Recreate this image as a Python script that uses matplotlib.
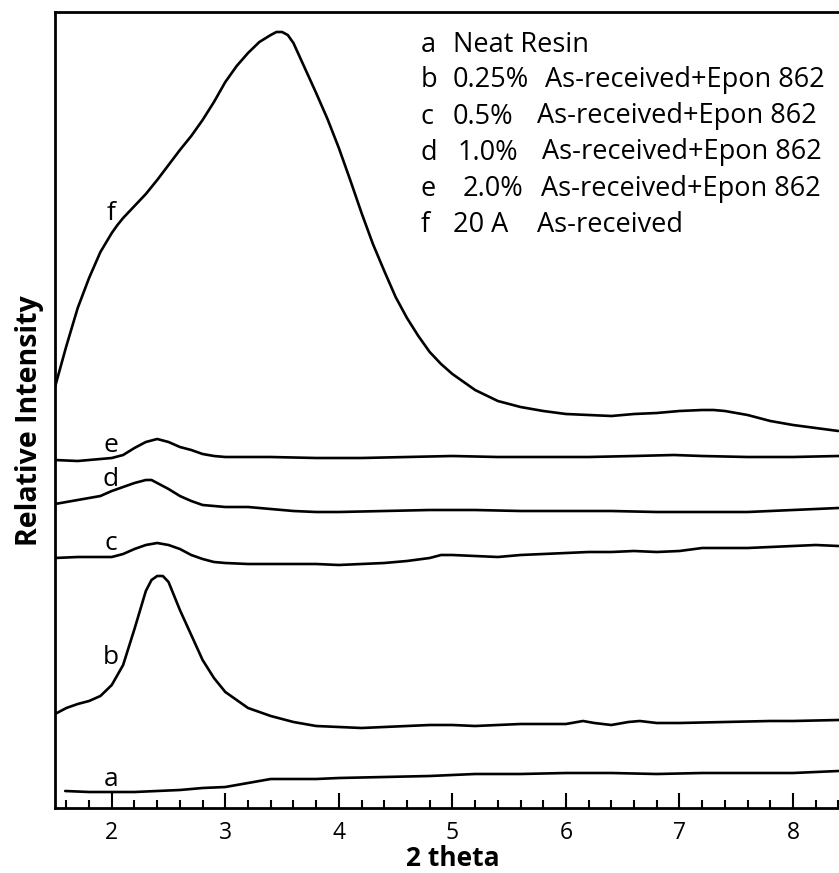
import matplotlib
matplotlib.use("Agg")
import matplotlib.pyplot as plt
from matplotlib.ticker import MultipleLocator

plt.rcParams["font.family"] = ["Open Sans", "DejaVu Sans"]

# --- XRD patterns (2 theta in degrees, stacked relative intensity) ---
a_x = [1.59, 1.8, 2.0, 2.2, 2.4, 2.6, 2.8, 3.0, 3.2, 3.4, 3.6, 3.8, 4.0, 4.4,
       4.8, 5.2, 5.6, 6.0, 6.4, 6.8, 7.2, 7.6, 8.0, 8.2, 8.4]
a_y = [17, 16, 16, 16, 17, 18, 20, 21, 25, 29, 29, 29, 30, 31,
       32, 34, 34, 35, 35, 34, 35, 35, 35, 36, 37]

b_x = [1.5, 1.6, 1.7, 1.8, 1.9, 2.0, 2.1, 2.2, 2.3, 2.35, 2.4, 2.45, 2.5, 2.6,
       2.7, 2.8, 2.9, 3.0, 3.2, 3.4, 3.6, 3.8, 4.0, 4.2, 4.4, 4.6, 4.8, 5.0,
       5.2, 5.4, 5.6, 5.8, 6.0, 6.15, 6.25, 6.4, 6.55, 6.65, 6.8, 7.0, 7.4,
       7.8, 8.0, 8.4]
b_y = [94, 100, 104, 107, 112, 123, 143, 179, 217, 228, 232, 232, 226, 198,
       173, 148, 130, 116, 100, 92, 86, 82, 81, 80, 81, 82, 83, 83,
       82, 83, 84, 84, 84, 87, 85, 83, 86, 87, 85, 85, 86,
       87, 87, 88]

c_x = [1.5, 1.7, 1.9, 2.0, 2.1, 2.2, 2.3, 2.4, 2.5, 2.6, 2.7, 2.8, 2.9, 3.0,
       3.2, 3.4, 3.6, 3.8, 4.0, 4.2, 4.4, 4.6, 4.8, 4.9, 5.0, 5.2, 5.4, 5.6,
       5.8, 6.0, 6.2, 6.4, 6.6, 6.8, 7.0, 7.2, 7.4, 7.6, 7.8, 8.0, 8.2, 8.4]
c_y = [250, 251, 251, 251, 254, 259, 263, 265, 263, 259, 253, 249, 246, 245,
       244, 244, 244, 244, 243, 244, 245, 247, 250, 253, 253, 252, 251, 253,
       254, 255, 256, 256, 257, 256, 257, 260, 260, 260, 261, 262, 263, 262]

d_x = [1.5, 1.7, 1.9, 2.0, 2.1, 2.2, 2.3, 2.35, 2.4, 2.5, 2.6, 2.7, 2.8, 3.0,
       3.2, 3.4, 3.6, 3.8, 4.0, 4.4, 4.8, 5.2, 5.6, 6.0, 6.4, 6.8, 7.2, 7.6,
       7.8, 8.0, 8.4]
d_y = [304, 308, 312, 317, 321, 325, 328, 328, 325, 319, 312, 307, 303, 301,
       301, 299, 297, 296, 296, 297, 298, 298, 297, 297, 297, 296, 296, 296,
       297, 298, 300]

e_x = [1.5, 1.7, 1.9, 2.0, 2.1, 2.2, 2.3, 2.4, 2.5, 2.6, 2.7, 2.8, 2.9, 3.0,
       3.4, 3.8, 4.2, 4.6, 5.0, 5.4, 5.8, 6.2, 6.6, 6.95, 7.2, 7.6, 8.0, 8.4]
e_y = [348, 347, 349, 350, 353, 360, 366, 369, 366, 361, 358, 354, 352, 351,
       351, 350, 350, 351, 352, 351, 351, 351, 352, 353, 352, 351, 351, 352]

f_x = [1.5, 1.6, 1.7, 1.8, 1.9, 2.0, 2.05, 2.1, 2.2, 2.3, 2.4, 2.5, 2.6, 2.7,
       2.8, 2.9, 3.0, 3.1, 3.2, 3.3, 3.4, 3.45, 3.5, 3.55, 3.6, 3.7, 3.8, 3.9,
       4.0, 4.1, 4.2, 4.3, 4.4, 4.5, 4.6, 4.7, 4.8, 4.9, 5.0, 5.2, 5.4, 5.6,
       5.8, 6.0, 6.2, 6.4, 6.6, 6.8, 7.0, 7.2, 7.3, 7.4, 7.6, 7.8, 8.0, 8.2,
       8.4]
f_y = [421, 462, 500, 530, 556, 575, 583, 590, 602, 614, 628, 643, 658, 672,
       688, 706, 726, 742, 755, 766, 773, 776, 776, 773, 765, 740, 715, 689,
       660, 628, 595, 564, 537, 511, 490, 472, 456, 444, 434, 418, 407, 401,
       397, 394, 393, 392, 394, 395, 397, 398, 398, 397, 393, 387, 383, 380,
       377]

curve_letters = ["a", "b", "c", "d", "e", "f"]
letter_y = [29, 150, 265, 328, 362, 595]

legend_letters = ["a", "b", "c", "d", "e", "f"]
legend_amounts = ["Neat Resin", "0.25%", "0.5%", "1.0%", "2.0%", "20 A"]
legend_materials = ["", "As-received+Epon 862", "As-received+Epon 862",
                    "As-received+Epon 862", "As-received+Epon 862", "As-received"]

x_ticks = [2, 3, 4, 5, 6, 7, 8]

W, H = 839, 873
fig = plt.figure(figsize=(W / 100, H / 100), dpi=100)
ax = fig.add_axes([55 / W, (H - 808) / H, 784 / W, 796 / H])

for xs, ys in [(a_x, a_y), (b_x, b_y), (c_x, c_y), (d_x, d_y), (e_x, e_y), (f_x, f_y)]:
    ax.plot(xs, ys, color="black", lw=1.9, solid_joinstyle="round",
            solid_capstyle="round", clip_on=True)

ax.set_xlim(1.5, 8.405)
ax.set_ylim(0, 796)

for lab, y in zip(curve_letters, letter_y):
    ax.text(1.99, y, lab, ha="center", va="center", fontsize=19)

# legend block in axes-fraction coordinates
amount_px = [453, 453, 453, 458, 463, 453]
material_px = [0, 545, 537, 542, 541, 537]
base_px = [51.5, 87, 123.5, 159.5, 196, 232]
for i in range(6):
    yb = (808 - base_px[i]) / 796
    ax.text((421 - 55) / 784, yb, legend_letters[i], transform=ax.transAxes,
            ha="left", va="baseline", fontsize=19.5)
    ax.text((amount_px[i] - 55) / 784, yb, legend_amounts[i], transform=ax.transAxes,
            ha="left", va="baseline", fontsize=19.5)
    if legend_materials[i]:
        ax.text((material_px[i] - 55) / 784, yb, legend_materials[i],
                transform=ax.transAxes, ha="left", va="baseline", fontsize=19.5)

ax.set_xticks(x_ticks)
ax.set_xticklabels([str(t) for t in x_ticks])
ax.xaxis.set_minor_locator(MultipleLocator(0.2))
ax.set_yticks([])
ax.tick_params(axis="x", which="major", direction="in", length=11, width=1.5,
               labelsize=16.5, pad=9.5)
ax.tick_params(axis="x", which="minor", direction="in", length=5.5, width=1.5)

for side in ["left", "top", "bottom"]:
    ax.spines[side].set_linewidth(2.0)
ax.spines["right"].set_visible(False)

fig.text(30 / W, 1 - 421 / H, "Relative Intensity", rotation=90, ha="center",
         va="center", fontsize=20.5, fontweight="bold")
fig.text(453 / W, 1 - 866 / H, "2 theta", ha="center", va="baseline",
         fontsize=19, fontweight="bold")

fig.savefig("out.png", dpi=100)
